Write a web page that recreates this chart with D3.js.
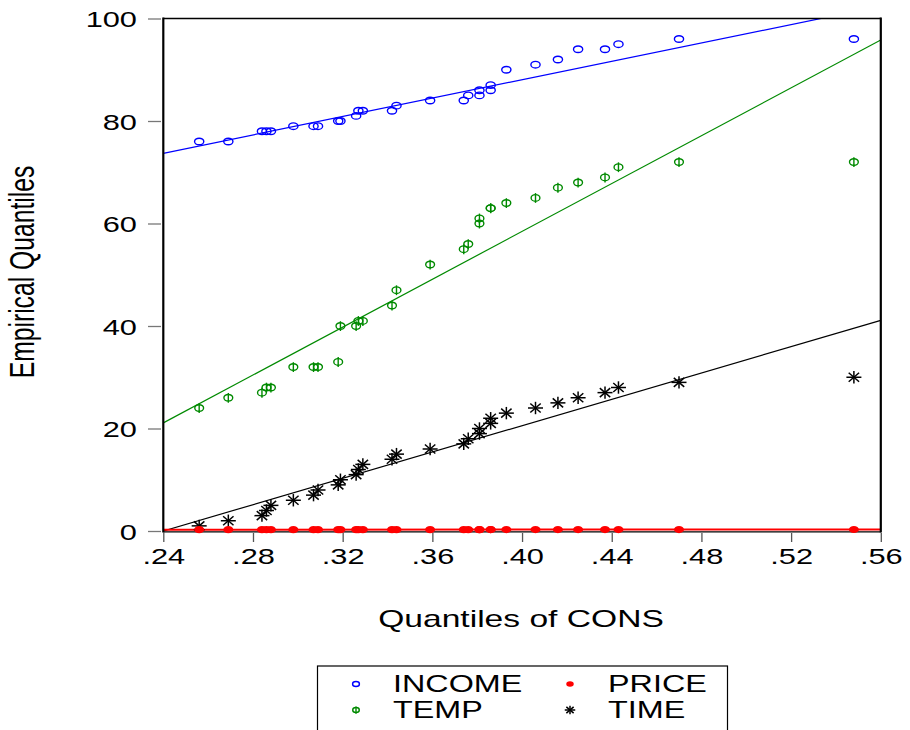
<!DOCTYPE html>
<html>
<head>
<meta charset="utf-8">
<script src="https://cdn.jsdelivr.net/npm/d3@7"></script>
<style>
  html, body { margin: 0; padding: 0; background: #fff; }
  svg { display: block; }
  text { font-family: "Liberation Sans", Arial, sans-serif; fill: #000; }
</style>
</head>
<body>
<svg id="chart" width="910" height="730"></svg>
<script>
// ---- data (sorted quantiles) ----
const consQ   = [0.256,0.269,0.284,0.286,0.288,0.298,0.307,0.309,0.318,0.319,0.326,0.327,0.329,0.342,0.344,0.359,0.374,0.376,0.381,0.381,0.386,0.386,0.393,0.406,0.416,0.425,0.437,0.443,0.470,0.548];
const incomeQ = [76,76,78,78,78,79,79,79,80,80,81,82,82,82,83,84,84,85,85,86,86,87,90,91,92,94,94,95,96,96];
const tempQ   = [24,26,27,28,28,32,32,32,33,40,40,41,41,44,47,52,55,56,60,61,63,63,64,65,67,68,69,71,72,72];
const priceQ  = [0.260,0.262,0.265,0.265,0.265,0.265,0.267,0.268,0.270,0.270,0.272,0.272,0.275,0.277,0.277,0.277,0.277,0.277,0.277,0.277,0.280,0.280,0.282,0.282,0.282,0.285,0.287,0.287,0.287,0.292];
const timeQ   = [1,2,3,4,5,6,7,8,9,10,11,12,13,14,15,16,17,18,19,20,21,22,23,24,25,26,27,28,29,30];

// fitted reference lines: values at x = .24 and x = .56
const fitX      = [0.24, 0.56];
const incomeFit = [73.7, 102.4];
const tempFit   = [21.1, 95.8];
const priceFit  = [0.24, 0.30];
const timeFit   = [0.0, 41.1];

const xTicks = [0.24,0.28,0.32,0.36,0.40,0.44,0.48,0.52,0.56];
const yTicks = [0,20,40,60,80,100];
const legendNames = ["INCOME","PRICE","TEMP","TIME"];
const xTitle = "Quantiles of CONS";
const yTitle = "Empirical Quantiles";

// ---- layout ----
const svg = d3.select("#chart");
const L = 163.3, R = 880.8, T = 18.5, B = 531;
const x = d3.scaleLinear().domain([0.24, 0.56]).range([L, R]);
const y = d3.scaleLinear().domain([0, 100]).range([B, T]);
const SX = 1.4; // horizontal text stretch

const colors = { INCOME: "#0000ff", TEMP: "#008a00", PRICE: "#ff0000", TIME: "#000000" };

// clip
svg.append("defs").append("clipPath").attr("id","clip")
  .append("rect").attr("x", L).attr("y", T).attr("width", R - L).attr("height", B - T);

// axes
const yAxis = d3.axisLeft(y).tickValues(yTicks).tickSize(13).tickFormat(d3.format("d"));
const gy = svg.append("g").attr("transform", `translate(161,0)`).call(yAxis);
gy.select(".domain").remove();
gy.selectAll(".tick line").attr("stroke", "#777").attr("stroke-width", 1.3);
gy.selectAll(".tick text")
  .attr("x", null).attr("dy", null)
  .attr("text-anchor", "end")
  .attr("transform", `translate(-24,8) scale(${SX},1)`)
  .style("font-size", "22px").style("font-family", "'Liberation Sans', Arial, sans-serif").attr("fill", "#000");

const fmtX = d => d3.format(".2f")(d).replace(/^0/, "");
const xAxis = d3.axisBottom(x).tickValues(xTicks).tickSize(9).tickFormat(fmtX);
const gx = svg.append("g").attr("transform", `translate(0,533)`).call(xAxis);
gx.select(".domain").remove();
gx.selectAll(".tick line").attr("stroke", "#555").attr("stroke-width", 1.3);
gx.selectAll(".tick text")
  .attr("y", null).attr("dy", null)
  .attr("text-anchor", "middle")
  .attr("transform", `translate(0,31) scale(${SX},1)`)
  .style("font-size", "22px").style("font-family", "'Liberation Sans', Arial, sans-serif").attr("fill", "#000");

// axis titles
svg.append("text").attr("text-anchor", "middle")
  .attr("transform", `translate(521,627) scale(${SX},1)`)
  .style("font-size", "24px").text(xTitle);
svg.append("text").attr("text-anchor", "middle").attr("dy", "0.36em")
  .attr("transform", `translate(21,272) scale(1.45,1) rotate(-90)`)
  .style("font-size", "24.7px").text(yTitle);

// marker painters
function drawMarker(g, type, cx, cy, s) {
  s = s || 1;
  if (type === "INCOME") {
    g.append("ellipse").attr("cx", cx).attr("cy", cy).attr("rx", 4.6*s).attr("ry", 3.3*s)
      .attr("fill", "none").attr("stroke", colors.INCOME).attr("stroke-width", 1.4);
  } else if (type === "TEMP") {
    g.append("ellipse").attr("cx", cx).attr("cy", cy).attr("rx", 4.4*s).attr("ry", 3.3*s)
      .attr("fill", "none").attr("stroke", colors.TEMP).attr("stroke-width", 1.4);
    g.append("line").attr("x1", cx).attr("x2", cx).attr("y1", cy - 4.8*s).attr("y2", cy + 5*s)
      .attr("stroke", colors.TEMP).attr("stroke-width", 1.4);
  } else if (type === "PRICE") {
    g.append("ellipse").attr("cx", cx).attr("cy", cy).attr("rx", 5*s).attr("ry", 3.6*s)
      .attr("fill", colors.PRICE);
  } else if (type === "TIME") {
    const hx = 7.5*s, hy = 6.2*s, dx = 5.2*s, dy = 4.5*s;
    const segs = [[-hx,0,hx,0],[0,-hy,0,hy],[-dx,-dy,dx,dy],[-dx,dy,dx,-dy]];
    segs.forEach(q => g.append("line")
      .attr("x1", cx+q[0]).attr("y1", cy+q[1]).attr("x2", cx+q[2]).attr("y2", cy+q[3])
      .attr("stroke", "#000").attr("stroke-width", 1.5));
  }
}

// frame bottom (under red line)
svg.append("line").attr("x1", L).attr("x2", R).attr("y1", B + 0.8).attr("y2", B + 0.8)
  .attr("stroke", "#000").attr("stroke-width", 1.2);

// fit lines
const lineGen = d3.line().x(d => x(d[0])).y(d => y(d[1]));
const fits = [["INCOME", incomeFit], ["TEMP", tempFit], ["TIME", timeFit], ["PRICE", priceFit]];
const gl = svg.append("g").attr("clip-path", "url(#clip)");
fits.forEach(([k, v]) => {
  gl.append("path").datum(fitX.map((xx, i) => [xx, v[i]]))
    .attr("d", lineGen).attr("fill", "none")
    .attr("stroke", colors[k]).attr("stroke-width", k === "PRICE" ? 2 : 1.2);
});

// points
const series = { INCOME: incomeQ, TEMP: tempQ, PRICE: priceQ, TIME: timeQ };
const gp = svg.append("g");
["INCOME", "TEMP", "TIME", "PRICE"].forEach(k => {
  series[k].forEach((v, i) => drawMarker(gp, k, x(consQ[i]), y(v)));
});

// frame
svg.append("line").attr("x1", L).attr("x2", L).attr("y1", T - 1).attr("y2", B + 1.5).attr("stroke", "#000").attr("stroke-width", 2.2);
svg.append("line").attr("x1", R).attr("x2", R).attr("y1", T - 1).attr("y2", B + 1.5).attr("stroke", "#000").attr("stroke-width", 2.2);
svg.append("line").attr("x1", L).attr("x2", R).attr("y1", T).attr("y2", T).attr("stroke", "#000").attr("stroke-width", 1.6);

// legend
const lg = svg.append("g");
lg.append("rect").attr("x", 317.5).attr("y", 666).attr("width", 410).attr("height", 80)
  .attr("fill", "#fff").attr("stroke", "#000").attr("stroke-width", 1.2);
const legPos = [[356, 684, 393], [570, 684, 608], [356, 710, 393], [570, 710, 608]];
legendNames.forEach((n, i) => {
  const [mx, my, tx] = legPos[i];
  drawMarker(lg, n, mx, my, n === "TIME" ? 0.7 : 0.75);
  lg.append("text").attr("transform", `translate(${tx},${my + 8}) scale(1.32,1)`)
    .style("font-size", "24.5px").text(n);
});
</script>
</body>
</html>
